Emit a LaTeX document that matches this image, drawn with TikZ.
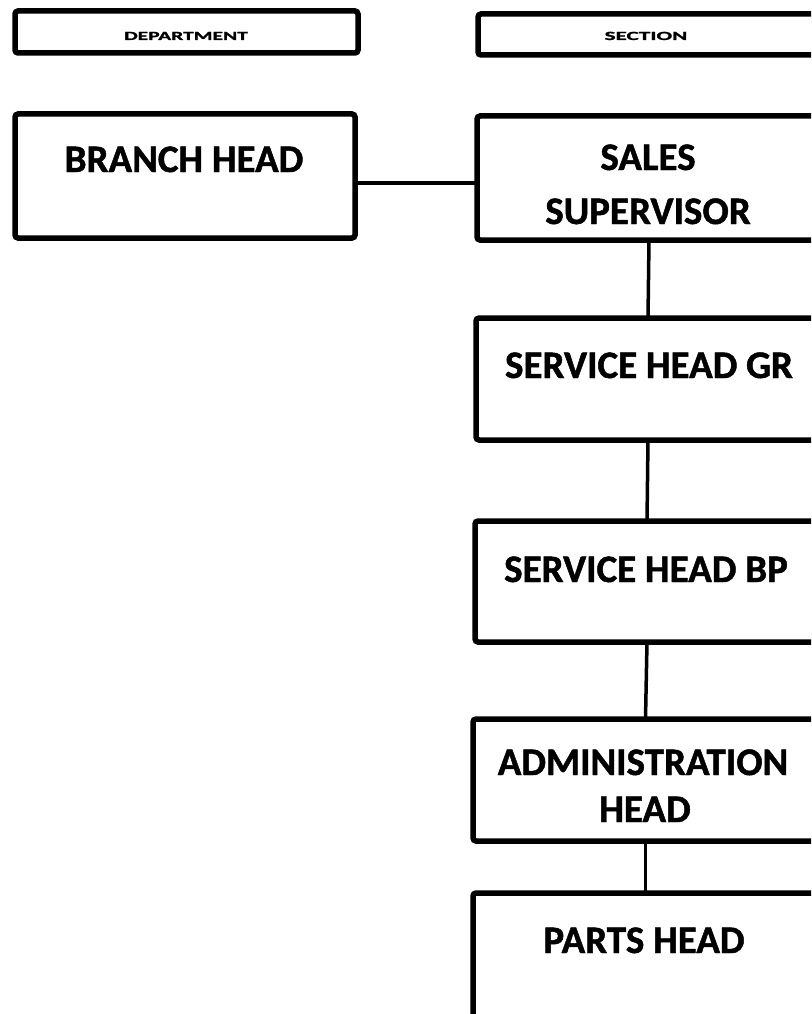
\documentclass[tikz,border=0pt]{standalone}
\usepackage{fontspec}
\usepackage{graphicx}
\setmainfont{Carlito}[BoldFeatures={FakeBold=1.2}]
\tikzset{
  orgbox/.style={draw=black, line width=5.5pt, rounded corners=3pt, rectangle, inner sep=0pt, outer sep=0pt, fill=none},
  link/.style={draw=black, line width=3.5pt},
  lbl/.style={anchor=base, inner sep=0pt, font=\fontsize{39}{46}\selectfont\bfseries},
  hdr/.style={anchor=base, inner sep=0pt, font=\fontsize{12.5}{15}\selectfont\bfseries}
}
\begin{document}
\begin{tikzpicture}[x=1pt,y=-1pt]
\useasboundingbox (0,0) rectangle (811,1014);
\begin{scope}
\clip (0,0) rectangle (811,1014);
% header boxes
\node[orgbox, minimum width=343pt, minimum height=42pt] (dept) at (186.5,32) {};
\node[orgbox, minimum width=343pt, minimum height=41pt] (sect) at (649.5,34.5) {};
% main boxes
\node[orgbox, minimum width=340pt, minimum height=124pt] (branch) at (185,176) {};
\node[orgbox, minimum width=344pt, minimum height=124pt] (sales) at (649,178) {};
\node[orgbox, minimum width=344pt, minimum height=122pt] (gr) at (648,379) {};
\node[orgbox, minimum width=344pt, minimum height=121pt] (bp) at (647,581.5) {};
\node[orgbox, minimum width=345pt, minimum height=122pt] (admin) at (645.5,780) {};
\node[orgbox, minimum width=345pt, minimum height=132pt] (parts) at (645.5,959) {};
% connectors
\draw[link] ([yshift=-7pt]branch.east) -- ([yshift=-5pt]sales.west);
\draw[link] (sales.south) -- (gr.north);
\draw[link] (gr.south) -- (bp.north);
\draw[link] (bp.south) -- (admin.north);
\draw[link] (admin.south) -- (parts.north);
\end{scope}
% header texts
\node[hdr] (tdept) at (186,40) {\scalebox{1.72}[1]{DEPARTMENT}};
\node[hdr] (tsect) at (646,40) {\scalebox{1.85}[1]{SECTION}};
% labels
\node[lbl] (tbranch) at (184,172) {BRANCH HEAD};
\node[lbl] (tsales1) at (648,170) {SALES};
\node[lbl] (tsales2) at (648,224) {SUPERVISOR};
\node[lbl] (tgr) at (649,378) {SERVICE HEAD GR};
\node[lbl] (tbp) at (646,582) {SERVICE HEAD BP};
\node[lbl] (tadmin1) at (643,775) {ADMINISTRATION};
\node[lbl] (tadmin2) at (645,822) {HEAD};
\node[lbl] (tparts) at (644,953) {PARTS HEAD};
\end{tikzpicture}
\end{document}
